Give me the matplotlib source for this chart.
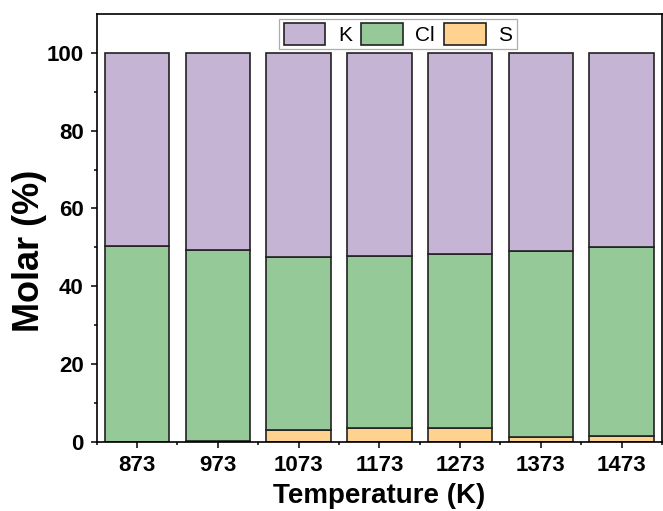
import numpy as np
import matplotlib
matplotlib.use("Agg")
import matplotlib.pyplot as plt
from matplotlib.ticker import FixedLocator

plt.rcParams['font.family'] = ['Liberation Sans', 'DejaVu Sans']

temps = ['873', '973', '1073', '1173', '1273', '1373', '1473']
s_mol = [0.0, 0.2, 3.0, 3.6, 3.5, 1.3, 1.5]
cl_mol = [50.4, 49.0, 44.4, 44.3, 44.8, 47.7, 48.6]
k_mol = [49.6, 50.8, 52.6, 52.1, 51.7, 51.0, 49.9]

c_k = '#C5B4D3'
c_cl = '#95CA98'
c_s = '#FFD38F'
edge = '#222222'

fig = plt.figure(figsize=(6.63, 5.11), dpi=100)
ax = fig.add_axes([0.1459, 0.135, 0.8526, 0.838])

x = np.arange(len(temps))
w = 0.8
s_arr = np.array(s_mol)
cl_arr = np.array(cl_mol)
ax.bar(x, s_arr, w, color=c_s, edgecolor=edge, linewidth=1.2, label='S')
ax.bar(x, cl_arr, w, bottom=s_arr, color=c_cl, edgecolor=edge, linewidth=1.2, label='Cl')
ax.bar(x, k_mol, w, bottom=s_arr + cl_arr, color=c_k, edgecolor=edge, linewidth=1.2, label='K')

ax.set_xlim(-0.5, len(temps) - 0.5)
ax.set_ylim(0, 110)
ax.set_xticks(x)
ax.set_xticklabels(temps)
ax.xaxis.set_minor_locator(FixedLocator(np.arange(-0.5, len(temps), 1.0)))
ax.yaxis.set_major_locator(FixedLocator([0, 20, 40, 60, 80, 100]))
ax.yaxis.set_minor_locator(FixedLocator([10, 30, 50, 70, 90]))

for sp in ax.spines.values():
    sp.set_linewidth(1.2)
    sp.set_color('black')

ax.tick_params(which='major', direction='out', length=4.5, width=1.1,
               labelsize=16, pad=5)
ax.tick_params(which='minor', direction='out', length=2.5, width=1.1)
ax.tick_params(axis='x', which='both', top=False)
ax.tick_params(axis='y', which='both', right=False)
for lbl in ax.get_xticklabels() + ax.get_yticklabels():
    lbl.set_fontweight('bold')

ax.set_xlabel('Temperature (K)', fontsize=20, fontweight='bold', labelpad=5)
ax.set_ylabel('Molar (%)', fontsize=26, fontweight='bold')
ax.yaxis.set_label_coords(-0.088, 0.446)

handles, labels = ax.get_legend_handles_labels()
leg = ax.legend(handles[::-1], labels[::-1], ncol=3, loc='upper center',
                bbox_to_anchor=(0.533, 1.0), borderaxespad=0.25,
                fontsize=15, frameon=True, fancybox=False,
                handlelength=2.0, handleheight=1.2, handletextpad=0.6,
                columnspacing=0.45, borderpad=0.2)
leg.get_frame().set_edgecolor('#999999')
leg.get_frame().set_linewidth(0.9)

fig.savefig('out.png', dpi=100)
